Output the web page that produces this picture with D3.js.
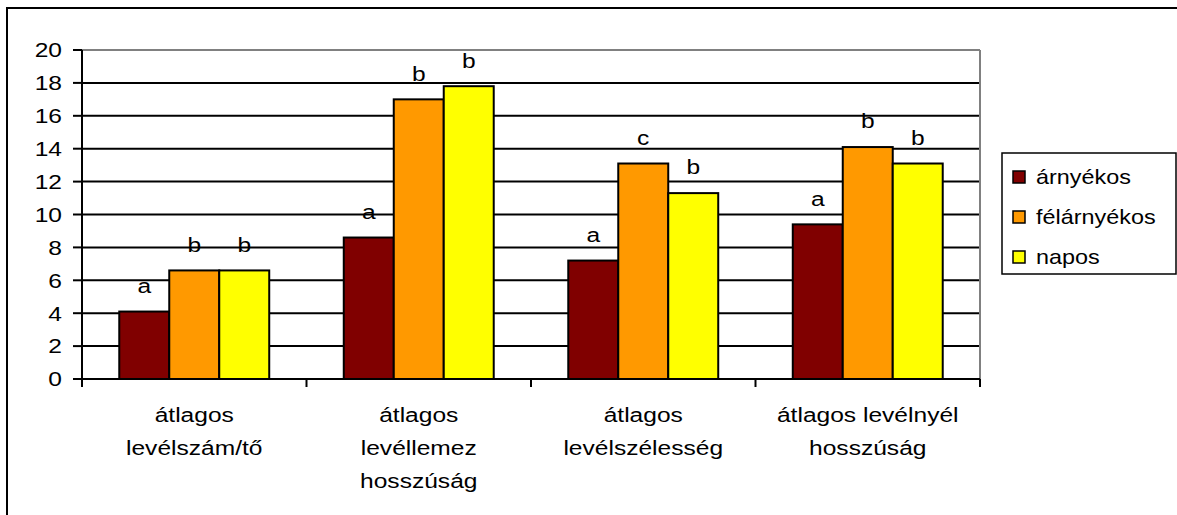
<!DOCTYPE html>
<html>
<head>
<meta charset="utf-8">
<script src="https://cdn.jsdelivr.net/npm/d3@7"></script>
<style>
  body { margin: 0; background: #fff; }
  svg text { font-family: "Liberation Sans", Arial, sans-serif; fill: #000; }
</style>
</head>
<body>
<div id="chart"></div>
<script>
var w = 1177;
var h = 515;

var categories = [
  ["átlagos", "levélszám/tő"],
  ["átlagos", "levéllemez", "hosszúság"],
  ["átlagos", "levélszélesség"],
  ["átlagos levélnyél", "hosszúság"]
];
var seriesNames = ["árnyékos", "félárnyékos", "napos"];
var seriesColors = ["#800000", "#FF9900", "#FFFF00"];

var arnyekos    = [4.1, 8.6, 7.2, 9.4];
var felarnyekos = [6.6, 17.0, 13.1, 14.1];
var napos       = [6.6, 17.8, 11.3, 13.1];

var lettersArnyekos    = ["a", "a", "a", "a"];
var lettersFelarnyekos = ["b", "b", "c", "b"];
var lettersNapos       = ["b", "b", "b", "b"];

var yTicks = [0, 2, 4, 6, 8, 10, 12, 14, 16, 18, 20];

var values = [arnyekos, felarnyekos, napos];
var letters = [lettersArnyekos, lettersFelarnyekos, lettersNapos];

var plotLeft = 82, plotRight = 980, plotTop = 50, plotBottom = 379;
var sx = 1.17; // text is a bit wider than tall in the original

var svg = d3.select("#chart")
            .append("svg")
            .attr("width", w)
            .attr("height", h);

// outer frame (only top and left edges show)
svg.append("rect")
   .attr("x", 7).attr("y", 8)
   .attr("width", w + 20).attr("height", h + 20)
   .attr("fill", "none")
   .attr("stroke", "#000")
   .attr("stroke-width", 2);

var x0 = d3.scaleBand()
           .domain(d3.range(categories.length))
           .range([plotLeft, plotRight]);

var x1 = d3.scaleBand()
           .domain(d3.range(seriesNames.length))
           .range([x0.bandwidth() * 0.166, x0.bandwidth() * 0.834]);

var y = d3.scaleLinear()
          .domain([0, 20])
          .range([plotBottom, plotTop]);

function stretchedText(g, x, yy, txt, size, anchor) {
  return g.append("text")
          .attr("transform", "translate(" + x + "," + yy + ") scale(" + sx + ",1)")
          .attr("text-anchor", anchor)
          .attr("dominant-baseline", "central")
          .style("font-size", size + "px")
          .text(txt);
}

// gridlines
svg.selectAll(".grid")
   .data(yTicks.filter(function(d) { return d > 0; }))
   .enter()
   .append("line")
   .attr("x1", plotLeft).attr("x2", plotRight)
   .attr("y1", function(d) { return y(d); })
   .attr("y2", function(d) { return y(d); })
   .attr("stroke", function(d) { return d == 20 ? "#808080" : "#000"; })
   .attr("stroke-width", 2);

// plot area right border
svg.append("line")
   .attr("x1", plotRight).attr("x2", plotRight)
   .attr("y1", plotTop).attr("y2", plotBottom)
   .attr("stroke", "#808080")
   .attr("stroke-width", 2);

// bars
var groups = svg.selectAll(".grp")
                .data(categories)
                .enter()
                .append("g")
                .attr("transform", function(d, i) { return "translate(" + x0(i) + ",0)"; });

groups.each(function(c, i) {
  var g = d3.select(this);
  values.forEach(function(vals, s) {
    g.append("rect")
     .attr("x", x1(s))
     .attr("y", y(vals[i]))
     .attr("width", x1.bandwidth())
     .attr("height", y(0) - y(vals[i]))
     .attr("fill", seriesColors[s])
     .attr("stroke", "#000")
     .attr("stroke-width", 2);
    stretchedText(g, x1(s) + x1.bandwidth() / 2, y(vals[i]) - 26, letters[s][i], 21, "middle");
  });
});

// y axis
svg.append("line")
   .attr("x1", plotLeft).attr("x2", plotLeft)
   .attr("y1", plotTop).attr("y2", plotBottom + 8)
   .attr("stroke", "#000").attr("stroke-width", 2);

svg.selectAll(".ytick")
   .data(yTicks)
   .enter()
   .append("line")
   .attr("x1", plotLeft - 9).attr("x2", plotLeft)
   .attr("y1", function(d) { return y(d); })
   .attr("y2", function(d) { return y(d); })
   .attr("stroke", "#000").attr("stroke-width", 2);

yTicks.forEach(function(t) {
  stretchedText(svg, 62, y(t), t, 21, "end");
});

// x axis
svg.append("line")
   .attr("x1", plotLeft - 9).attr("x2", plotRight)
   .attr("y1", plotBottom).attr("y2", plotBottom)
   .attr("stroke", "#000").attr("stroke-width", 2);

d3.range(categories.length + 1).forEach(function(i) {
  var xx = i < categories.length ? x0(i) : plotRight;
  svg.append("line")
     .attr("x1", xx).attr("x2", xx)
     .attr("y1", plotBottom).attr("y2", plotBottom + 8)
     .attr("stroke", "#000").attr("stroke-width", 2);
});

categories.forEach(function(lines, i) {
  lines.forEach(function(l, k) {
    stretchedText(svg, x0(i) + x0.bandwidth() / 2, 415 + k * 33, l, 21, "middle");
  });
});

// legend
var legend = svg.append("g").attr("transform", "translate(1002,153)");
legend.append("rect")
      .attr("width", 174).attr("height", 121)
      .attr("fill", "#fff").attr("stroke", "#000").attr("stroke-width", 1.5);

seriesNames.forEach(function(n, s) {
  var cy = 24 + s * 40;
  legend.append("rect")
        .attr("x", 11).attr("y", cy - 6)
        .attr("width", 12).attr("height", 12)
        .attr("fill", seriesColors[s])
        .attr("stroke", "#000").attr("stroke-width", 1.5);
  stretchedText(legend, 34, cy, n, 20, "start");
});
</script>
</body>
</html>
